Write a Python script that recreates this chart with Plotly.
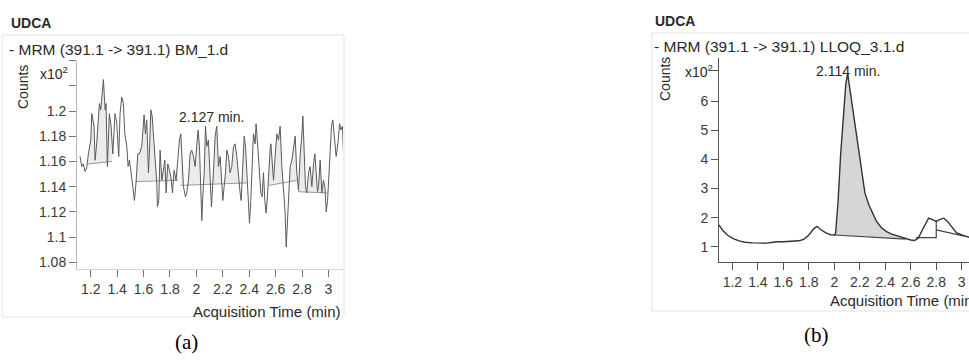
import numpy as np
import plotly.graph_objects as go

W, H = 969, 362

# ---------------- Panel (a): BM_1.d (noise) ----------------
a_time = [1.119, 1.132, 1.144, 1.157, 1.170, 1.182, 1.200, 1.208, 1.225, 1.233, 1.245, 1.266, 1.276, 1.283,
          1.296, 1.309, 1.316, 1.326, 1.341, 1.354, 1.367, 1.384, 1.397, 1.412, 1.422, 1.435, 1.447, 1.458,
          1.473, 1.483, 1.493, 1.506, 1.518, 1.523, 1.531, 1.543, 1.556, 1.569, 1.586, 1.604, 1.614, 1.624,
          1.637, 1.647, 1.655, 1.665, 1.675, 1.687, 1.700, 1.705, 1.715, 1.725, 1.738, 1.750, 1.761, 1.771,
          1.783, 1.796, 1.806, 1.819, 1.831, 1.846, 1.862, 1.872, 1.882, 1.892, 1.902, 1.917, 1.927, 1.940,
          1.952, 1.965, 1.978, 1.990, 2.003, 2.013, 2.023, 2.033, 2.041, 2.048, 2.059, 2.069, 2.079, 2.091,
          2.104, 2.114, 2.129, 2.142, 2.154, 2.167, 2.180, 2.190, 2.200, 2.210, 2.220, 2.230, 2.243, 2.255,
          2.268, 2.281, 2.293, 2.306, 2.319, 2.331, 2.339, 2.351, 2.362, 2.372, 2.382, 2.394, 2.402, 2.412,
          2.422, 2.432, 2.445, 2.452, 2.463, 2.475, 2.488, 2.498, 2.508, 2.518, 2.528, 2.538, 2.548, 2.558,
          2.564, 2.574, 2.584, 2.596, 2.609, 2.622, 2.634, 2.647, 2.659, 2.672, 2.680, 2.690, 2.700, 2.710,
          2.723, 2.735, 2.748, 2.760, 2.773, 2.786, 2.796, 2.806, 2.816, 2.826, 2.836, 2.849, 2.861, 2.874,
          2.887, 2.897, 2.907, 2.917, 2.925, 2.937, 2.950, 2.962, 2.973, 2.983, 2.993, 3.003, 3.013, 3.023,
          3.033, 3.046, 3.058, 3.071, 3.084, 3.094, 3.106, 3.114]
a_counts = [1.164, 1.156, 1.158, 1.152, 1.155, 1.166, 1.177, 1.198, 1.188, 1.161, 1.174, 1.206, 1.201, 1.209,
            1.225, 1.201, 1.206, 1.156, 1.198, 1.188, 1.166, 1.198, 1.190, 1.164, 1.198, 1.211, 1.206, 1.182,
            1.172, 1.156, 1.161, 1.151, 1.140, 1.132, 1.129, 1.143, 1.166, 1.166, 1.172, 1.197, 1.182, 1.193,
            1.151, 1.174, 1.201, 1.196, 1.182, 1.166, 1.143, 1.124, 1.129, 1.169, 1.145, 1.153, 1.161, 1.135,
            1.158, 1.153, 1.148, 1.135, 1.153, 1.145, 1.164, 1.177, 1.182, 1.164, 1.140, 1.132, 1.135, 1.145,
            1.166, 1.169, 1.164, 1.156, 1.172, 1.185, 1.172, 1.137, 1.113, 1.132, 1.151, 1.188, 1.172, 1.177,
            1.145, 1.124, 1.151, 1.180, 1.188, 1.156, 1.164, 1.148, 1.129, 1.140, 1.151, 1.169, 1.164, 1.151,
            1.156, 1.172, 1.174, 1.164, 1.145, 1.135, 1.129, 1.156, 1.180, 1.172, 1.153, 1.129, 1.111, 1.129,
            1.151, 1.182, 1.174, 1.190, 1.174, 1.153, 1.135, 1.132, 1.151, 1.129, 1.119, 1.132, 1.156, 1.169,
            1.174, 1.156, 1.145, 1.164, 1.182, 1.177, 1.188, 1.156, 1.135, 1.119, 1.092, 1.111, 1.140, 1.156,
            1.161, 1.172, 1.180, 1.151, 1.137, 1.166, 1.177, 1.196, 1.172, 1.140, 1.135, 1.151, 1.156, 1.140,
            1.158, 1.166, 1.151, 1.136, 1.140, 1.161, 1.135, 1.145, 1.140, 1.120, 1.129, 1.148, 1.166, 1.188,
            1.193, 1.174, 1.164, 1.174, 1.190, 1.185, 1.188, 1.166]
# integration baselines: (t_start, c_start, t_end, c_end)
a_base_t0 = [1.180, 1.540, 1.880, 2.550, 2.770]
a_base_c0 = [1.158, 1.144, 1.141, 1.141, 1.136]
a_base_t1 = [1.360, 1.860, 2.380, 2.760, 2.990]
a_base_c1 = [1.160, 1.145, 1.143, 1.145, 1.135]

a_yticks = [1.08, 1.10, 1.12, 1.14, 1.16, 1.18, 1.20, 1.22, 1.24]
a_yticktext = ["1.08", "1.1", "1.12", "1.14", "1.16", "1.18", "1.2", " ", " "]

# ---------------- Panel (b): LLOQ_3.1.d ----------------
b_time = [1.095, 1.12, 1.16, 1.21, 1.26, 1.30, 1.36, 1.42, 1.47, 1.52, 1.55, 1.60, 1.66, 1.72, 1.76,
          1.80, 1.84, 1.865, 1.89, 1.93, 1.97, 2.00, 2.01, 2.03, 2.05, 2.07, 2.09, 2.105, 2.12, 2.15,
          2.18, 2.21, 2.24, 2.27, 2.30, 2.33, 2.37, 2.41, 2.45, 2.50, 2.55, 2.60, 2.63, 2.66, 2.70,
          2.74, 2.77, 2.80, 2.83, 2.86, 2.89, 2.92, 2.96, 3.00, 3.05, 3.06]
b_counts = [1.75, 1.58, 1.40, 1.27, 1.19, 1.15, 1.13, 1.12, 1.12, 1.15, 1.17, 1.17, 1.19, 1.20, 1.25,
            1.40, 1.62, 1.70, 1.60, 1.48, 1.41, 1.40, 1.45, 2.60, 4.20, 5.50, 6.60, 6.95, 6.50, 5.60,
            4.75, 3.70, 2.85, 2.45, 2.15, 1.88, 1.65, 1.52, 1.43, 1.36, 1.29, 1.23, 1.21, 1.30, 1.65,
            1.98, 1.93, 1.87, 1.94, 1.98, 1.86, 1.68, 1.47, 1.40, 1.33, 1.32]
b_peak_base_t = [2.00, 2.56]
b_peak_base_c = [1.40, 1.26]
b_base2_t = [2.64, 2.80, 2.80]
b_base2_c = [1.31, 1.31, 1.87]
b_base3_t = [2.80, 3.01]
b_base3_c = [1.58, 1.37]

b_yticks = [1, 2, 3, 4, 5, 6, 7.06]
b_yticktext = ["1", "2", "3", "4", "5", "6", " "]

x_ticks = [1.2, 1.4, 1.6, 1.8, 2.0, 2.2, 2.4, 2.6, 2.8, 3.0]
x_ticktext = ["1.2", "1.4", "1.6", "1.8", "2", "2.2", "2.4", "2.6", "2.8", "3"]

FONT = "Liberation Sans, Arial, sans-serif"
SERIF = "Liberation Serif, Times New Roman, serif"

fig = go.Figure()

# --- panel (a) fills for integrated regions ---
t_arr = np.array(a_time)
c_arr = np.array(a_counts)
for t0, c0, t1, c1 in zip(a_base_t0, a_base_c0, a_base_t1, a_base_c1):
    inner = [(t, c) for t, c in zip(a_time, a_counts) if t0 < t < t1]
    ts = [t0] + [p[0] for p in inner] + [t1]
    cs = [float(np.interp(t0, t_arr, c_arr))] + [p[1] for p in inner] + [float(np.interp(t1, t_arr, c_arr))]
    base = [c0 + (c1 - c0) * (t - t0) / (t1 - t0) for t in ts]
    upper = [max(c, b) for c, b in zip(cs, base)]
    fig.add_trace(go.Scatter(x=ts, y=base, mode="lines", line=dict(color="#999999", width=1),
                             xaxis="x", yaxis="y", hoverinfo="skip"))
    fig.add_trace(go.Scatter(x=ts, y=upper, mode="lines", line=dict(width=0), fill="tonexty",
                             fillcolor="rgba(205,205,205,0.4)", xaxis="x", yaxis="y", hoverinfo="skip"))

fig.add_trace(go.Scatter(x=a_time, y=a_counts, mode="lines", line=dict(color="#5a5a5a", width=1),
                         xaxis="x", yaxis="y"))

# --- panel (b) ---
bt = np.array(b_time)
bc = np.array(b_counts)
ins = [(t, c) for t, c in zip(b_time, b_counts) if b_peak_base_t[0] < t < b_peak_base_t[1]]
pts_t = [b_peak_base_t[0]] + [p[0] for p in ins] + [b_peak_base_t[1]]
pts_c = [float(np.interp(b_peak_base_t[0], bt, bc))] + [p[1] for p in ins] + [float(np.interp(b_peak_base_t[1], bt, bc))]
pb = [b_peak_base_c[0] + (b_peak_base_c[1] - b_peak_base_c[0]) * (t - b_peak_base_t[0]) / (b_peak_base_t[1] - b_peak_base_t[0]) for t in pts_t]
fig.add_trace(go.Scatter(x=pts_t, y=pb, mode="lines", line=dict(color="#444444", width=1.2),
                         xaxis="x2", yaxis="y2", hoverinfo="skip"))
fig.add_trace(go.Scatter(x=pts_t, y=pts_c, mode="lines", line=dict(width=0), fill="tonexty",
                         fillcolor="#d6d6d6", xaxis="x2", yaxis="y2", hoverinfo="skip"))
fig.add_trace(go.Scatter(x=b_base2_t, y=b_base2_c, mode="lines", line=dict(color="#444444", width=1.2),
                         xaxis="x2", yaxis="y2"))
fig.add_trace(go.Scatter(x=b_base3_t, y=b_base3_c, mode="lines", line=dict(color="#444444", width=1.2),
                         xaxis="x2", yaxis="y2"))
fig.add_trace(go.Scatter(x=b_time, y=b_counts, mode="lines", line=dict(color="#333333", width=1.4),
                         xaxis="x2", yaxis="y2"))


def px(x):
    return x / W


def py(y):
    return 1 - y / H


tickfont = dict(family=FONT, size=14, color="#3a3a3a")
common_x = dict(tickvals=x_ticks, ticktext=x_ticktext, ticks="outside", ticklen=7, showgrid=False,
                zeroline=False, showline=True, tickfont=tickfont, automargin=False)
fig.update_layout(
    width=W, height=H, margin=dict(l=0, r=0, t=0, b=0, autoexpand=False),
    paper_bgcolor="white", plot_bgcolor="rgba(0,0,0,0)", showlegend=False, hovermode=False,
    xaxis=dict(domain=[px(77), px(343)], range=[1.096, 3.11], anchor="y", linecolor="#d4d4d4",
               tickcolor="#777777", **common_x),
    yaxis=dict(domain=[py(269), py(60.7)], range=[1.0746, 1.24], anchor="x", tickvals=a_yticks,
               ticktext=a_yticktext, ticks="outside", ticklen=7, showgrid=False, zeroline=False,
               showline=True, linecolor="#b8b8b8", tickcolor="#777777", tickfont=tickfont,
               automargin=False),
    xaxis2=dict(domain=[px(719), 1.0], range=[1.095, 3.057], anchor="y2", linecolor="#555555",
                tickcolor="#555555", **common_x),
    yaxis2=dict(domain=[py(262), py(58)], range=[0.47, 7.5], anchor="x2", tickvals=b_yticks,
                ticktext=b_yticktext, ticks="outside", ticklen=7, showgrid=False, zeroline=False,
                showline=True, linecolor="#555555", tickcolor="#555555", tickfont=tickfont,
                automargin=False),
)

# faint scan boxes
fig.add_shape(type="rect", xref="paper", yref="paper", x0=px(2), x1=px(344), y0=py(317), y1=py(35),
              line=dict(color="#e4e4e4", width=1), layer="below")
fig.add_shape(type="rect", xref="paper", yref="paper", x0=px(652), x1=px(990), y0=py(311), y1=py(33),
              line=dict(color="#e4e4e4", width=1), layer="below")


def ann(text, x, y, xanchor="left", size=15, bold=False, family=FONT, angle=0, color="#2a2a2a"):
    t = f"<b>{text}</b>" if bold else text
    fig.add_annotation(text=t, x=px(x), y=py(y), xref="paper", yref="paper", xanchor=xanchor,
                       yanchor="middle", showarrow=False, textangle=angle,
                       font=dict(family=family, size=size, color=color))


# panel (a) texts
ann("UDCA", 9, 23, bold=True, size=14)
ann("- MRM (391.1 -> 391.1) BM_1.d", 7, 50, size=15.5)
ann("Counts", 23, 87, xanchor="center", size=14, angle=-90)
ann("x10<sup>2</sup>", 54, 73, xanchor="center", size=14)
ann("2.127 min.", 211, 117, xanchor="center", size=14)
ann("Acquisition Time (min)", 343, 311, xanchor="right", size=15)
ann("(a)", 186, 342, xanchor="center", size=21, family=SERIF, color="#000000")

# panel (b) texts
ann("UDCA", 653, 21, bold=True, size=14)
ann("- MRM (391.1 -> 391.1) LLOQ_3.1.d", 652, 47, size=15.5)
ann("Counts", 665, 79, xanchor="center", size=14, angle=-90)
ann("x10<sup>2</sup>", 715, 71, xanchor="right", size=14)
ann("2.114 min.", 848, 71, xanchor="center", size=14)
ann("Acquisition Time (min)", 828, 300, xanchor="left", size=15)
ann("(b)", 816, 335, xanchor="center", size=21, family=SERIF, color="#000000")

fig.write_html("out.html", config={"displayModeBar": False},
               post_script="document.body.style.margin='0';document.body.style.overflow='hidden';")
